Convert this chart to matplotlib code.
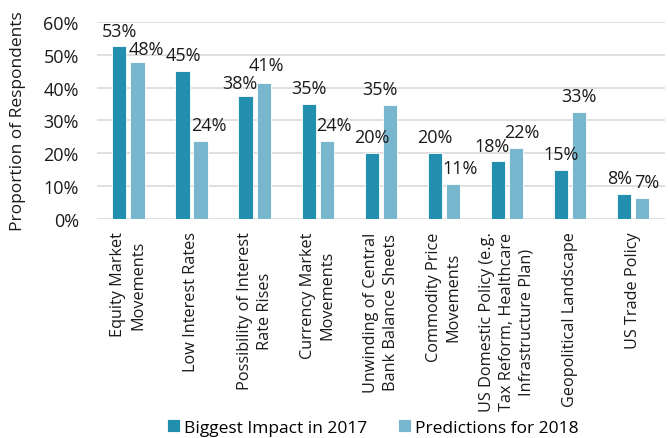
import numpy as np
import matplotlib
matplotlib.use('Agg')
import matplotlib.pyplot as plt

plt.rcParams['font.family'] = ['Open Sans', 'DejaVu Sans']

# data
categories = ['Equity Market\nMovements', 'Low Interest Rates', 'Possibility of Interest\nRate Rises',
              'Currency Market\nMovements', 'Unwinding of Central\nBank Balance Sheets',
              'Commodity Price\nMovements', 'US Domestic Policy (e.g.\nTax Reform, Healthcare\nInfrastructure Plan)',
              'Geopolitical Landscape', 'US Trade Policy']
impact_2017 = [52.5, 45.0, 37.5, 35.0, 20.0, 20.0, 17.5, 15.0, 7.5]
predict_2018 = [47.8, 23.8, 41.3, 23.8, 34.7, 10.7, 21.7, 32.6, 6.5]
series_names = ['Biggest Impact in 2017', 'Predictions for 2018']

dark = '#238fae'
light = '#78b6ce'
txt = '#1a1a1a'

fig = plt.figure(figsize=(6.68, 4.39), dpi=100)
ax = fig.add_axes([0.145, 0.499, 0.850, 0.449])

x = np.arange(len(categories))
off = 0.143
w = 0.225
b1 = ax.bar(x - off, impact_2017, w, color=dark, edgecolor='white', linewidth=0.6, label=series_names[0], zorder=3)
b2 = ax.bar(x + off, predict_2018, w, color=light, edgecolor='white', linewidth=0.6, label=series_names[1], zorder=3)

# label nudges (points) to mimic the spreadsheet's label placement
dx1 = [0, 1, -4, 0, 0, 0, -4, 0, -3]
dy1 = [5, 5, 3, 5, 5, 5, 5, 5, 5]
dx2 = [6.5, 6, 2, 5, -7, 5, 4, 0, 3]
dy2 = [3, 5, 7, 5, 5, 5, 5, 5, 5]

for i in range(len(categories)):
    v = impact_2017[i]
    ax.annotate('%d%%' % int(v + 0.5), (x[i] - off, v), xytext=(dx1[i], dy1[i]),
                textcoords='offset points', ha='center', va='bottom', fontsize=13, color=txt)
    v = predict_2018[i]
    ax.annotate('%d%%' % int(v + 0.5), (x[i] + off, v), xytext=(dx2[i], dy2[i]),
                textcoords='offset points', ha='center', va='bottom', fontsize=13, color=txt)

ax.set_xlim(-0.5, len(categories) - 0.5)
ax.set_ylim(0, 60)
ax.set_yticks(np.arange(0, 61, 10))
ax.set_yticklabels(['%d%%' % t for t in range(0, 61, 10)])
ax.yaxis.grid(True, color='#d9d9d9', linewidth=1.2, zorder=0)
for s in ['top', 'right', 'left', 'bottom']:
    ax.spines[s].set_visible(False)
ax.tick_params(axis='y', length=0, pad=13, labelsize=13, labelcolor=txt)
ax.tick_params(axis='x', length=0, pad=9, labelsize=11.7, labelcolor=txt)
ax.set_xticks(x)
ax.set_xticklabels(categories, rotation=90, multialignment='center', linespacing=1.32)
ax.set_ylabel('Proportion of Respondents', fontsize=12.5, color=txt)
ax.yaxis.set_label_coords(-0.125, 0.5)

fig.legend(handles=[b1, b2], labels=series_names, loc='lower center', bbox_to_anchor=(0.558, -0.03),
           ncol=2, frameon=False, fontsize=12.5, handlelength=0.75, handleheight=0.75,
           handletextpad=0.2, columnspacing=1.8)

fig.savefig('out.png', dpi=100)
